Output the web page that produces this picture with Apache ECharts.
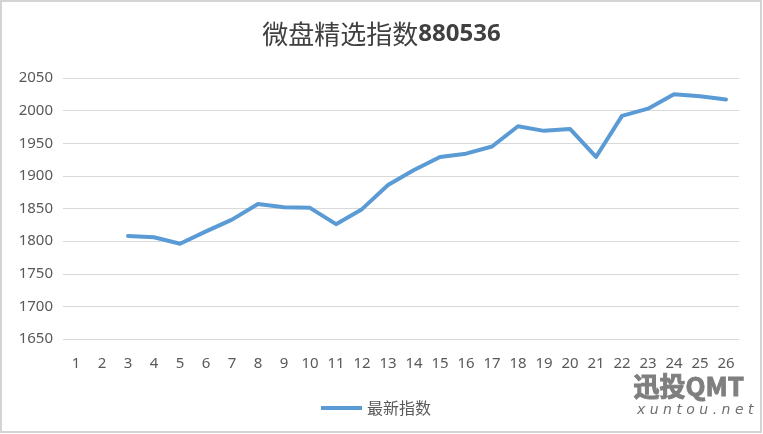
<!DOCTYPE html>
<html>
<head>
<meta charset="utf-8">
<script src="https://cdn.jsdelivr.net/npm/echarts@6/dist/echarts.min.js"></script>
<style>
html,body{margin:0;padding:0;background:#fff;}
#chart{width:763px;height:434px;}
</style>
</head>
<body>
<div id="chart"></div>
<script>
const titleName = "微盘精选指数";
const titleCode = "880536";
const seriesName = "最新指数";
const categories = ["1","2","3","4","5","6","7","8","9","10","11","12","13","14","15","16","17","18","19","20","21","22","23","24","25","26"];
const values = [null,null,1808,1806,1796,1815,1833,1857,1852,1851,1826,1849,1886,1909,1929,1934,1945,1976,1969,1972,1929,1992,2003,2025,2022,2017];
const yMin = 1650, yMax = 2050, yStep = 50;

const chart = echarts.init(document.getElementById('chart'));
chart.setOption({
  animation: false,
  backgroundColor: '#ffffff',
  title: {
    text: '{a|' + titleName + '}{b|' + titleCode + '}',
    left: 'center',
    top: 16,
    textStyle: {
      rich: {
        a: {fontSize: 26, color: '#404040', fontWeight: 'normal', fontFamily: 'Noto Sans CJK SC'},
        b: {fontSize: 24, color: '#404040', fontWeight: 'bold', fontFamily: 'Noto Sans'}
      }
    }
  },
  legend: {
    data: [seriesName],
    left: 316,
    top: 395,
    icon: 'rect',
    itemWidth: 41,
    itemHeight: 4,
    textStyle: {fontSize: 16, color: '#595959', fontFamily: 'Noto Sans CJK SC'}
  },
  grid: {left: 63, right: 24, top: 78, bottom: 95, containLabel: false},
  xAxis: {
    type: 'category',
    data: categories,
    boundaryGap: true,
    axisLine: {show: false},
    axisTick: {show: false},
    axisLabel: {color: '#595959', fontSize: 15, fontFamily: 'Noto Sans', margin: 17, interval: 0}
  },
  yAxis: {
    type: 'value',
    min: yMin,
    max: yMax,
    interval: yStep,
    axisLine: {show: false},
    axisTick: {show: false},
    axisLabel: {color: '#595959', fontSize: 15, fontFamily: 'Noto Sans', margin: 10, formatter: function (v) { return String(v); }},
    splitLine: {lineStyle: {color: '#d9d9d9', width: 1}}
  },
  series: [{
    name: seriesName,
    type: 'line',
    data: values,
    showSymbol: false,
    symbol: 'none',
    connectNulls: false,
    lineStyle: {color: '#5b9bd5', width: 4, join: 'round', cap: 'round'},
    itemStyle: {color: '#5b9bd5'}
  }],
  graphic: [
    {type: 'rect', shape: {x: 1, y: 1, width: 760, height: 431}, style: {fill: 'none', stroke: '#d4d4d4', lineWidth: 2}, silent: true},
    {type: 'text', left: 633, top: 373, style: {text: '迅投QMT', font: 'bold 26px "Noto Sans CJK SC"', fill: '#7f7f7f', stroke: '#7f7f7f', lineWidth: 1}, silent: true},
    {type: 'text', left: 637, top: 403, style: {text: 'x u n t o u . n e t', font: 'italic 14px "DejaVu Sans"', fill: '#6f6f6f'}, silent: true}
  ]
});
</script>
</body>
</html>
